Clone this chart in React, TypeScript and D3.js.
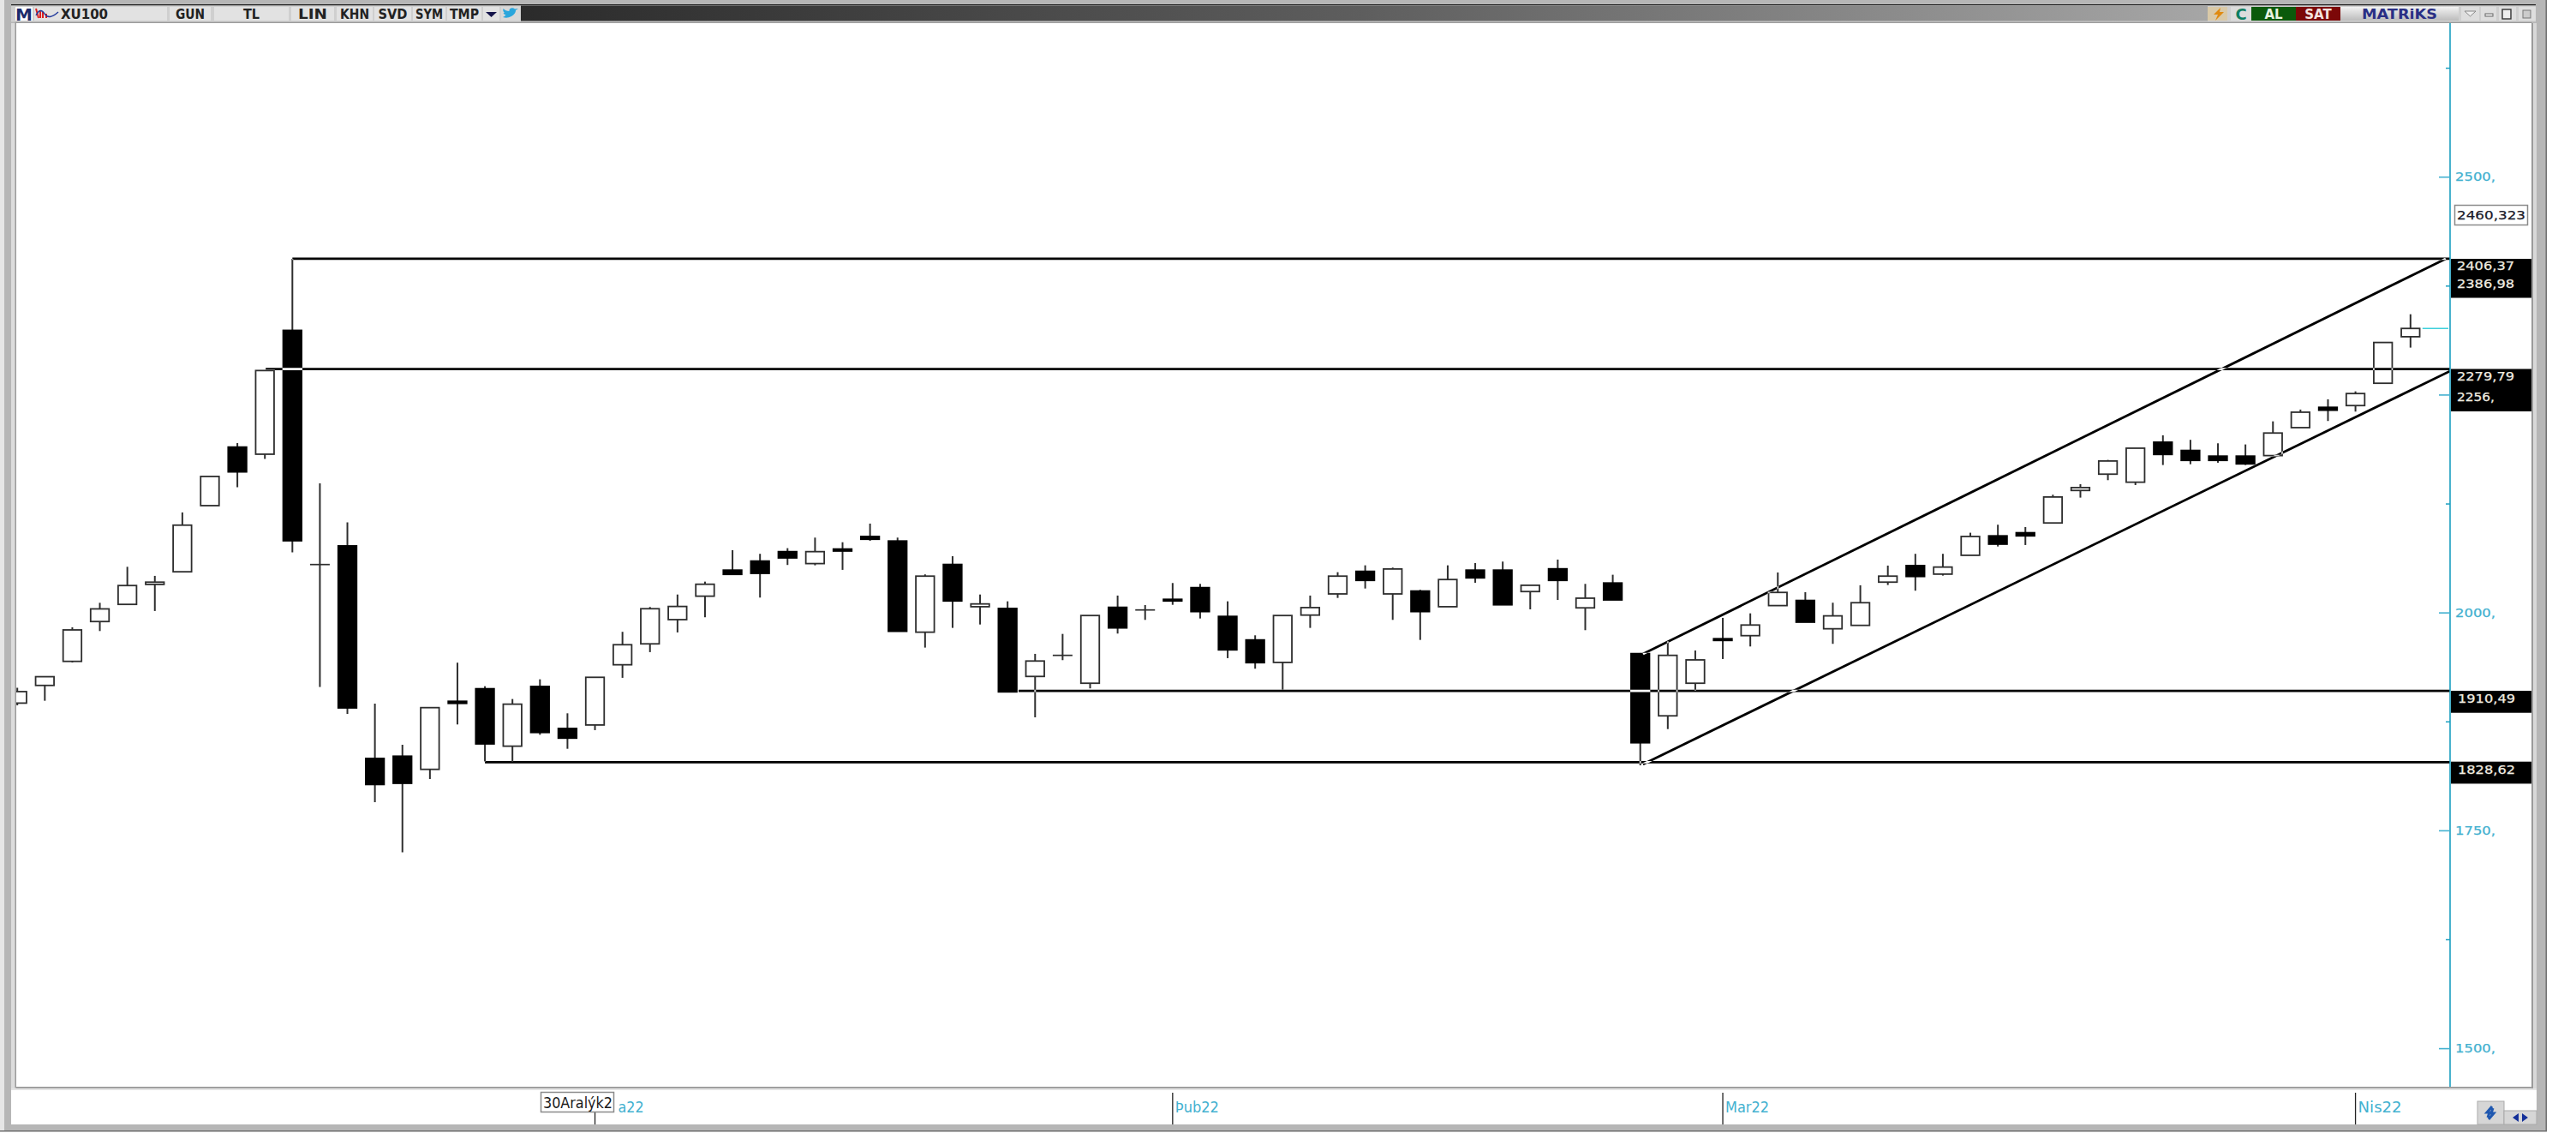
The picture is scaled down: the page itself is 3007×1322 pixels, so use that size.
import React from 'react';
import * as d3 from 'd3';

const opens = [1896.5,1916.8,1944.4,1990.1,2009.8,2032.7,2047.2,2123.1,2190.3,2182.1,2324.2,2055.5,2076.9,1833.0,1835.6,1820.5,1898.6,1913.0,1847.1,1915.6,1867.4,1871.4,1940.5,1964.5,1992.3,2019.2,2049.1,2059.5,2070.3,2056.6,2073.3,2087.7,2082.5,1977.9,2055.6,2007.1,2005.1,1927.1,1951.3,1919.3,2006.4,2003.4,2015.6,2029.0,1996.0,1969.0,1943.2,1997.5,2021.8,2047.7,2021.8,2025.1,2007.1,2049.1,2049.1,2024.5,2050.6,2005.8,2034.3,1953.3,1881.9,1919.3,1970.4,1973.9,2008.4,2014.3,1981.8,1985.7,2035.3,2054.3,2044.5,2066.1,2088.4,2092.0,2103.2,2140.5,2159.2,2150.0,2195.9,2186.4,2179.9,2179.9,2180.5,2212.6,2235.9,2237.9,2263.5,2316.9];
const highs = [1914.1,1926.8,1983.5,2011.6,2052.9,2042.5,2115.3,2156.6,2194.9,2278.1,2406.4,2148.7,2103.9,1895.9,1848.7,1891.3,1942.9,1915.9,1901.2,1923.8,1884.8,1926.1,1978.3,2006.8,2021.1,2035.9,2072.0,2067.8,2074.3,2086.4,2081.1,2102.5,2086.4,2044.2,2065.1,2021.1,2013.3,1953.0,1975.9,1997.0,2019.9,2009.0,2034.3,2033.3,2013.3,1974.3,1997.0,2019.9,2046.7,2054.6,2052.0,2026.5,2054.6,2057.2,2058.9,2031.7,2061.2,2033.3,2043.8,1954.0,1967.4,1956.9,1994.3,1999.5,2046.4,2023.8,2011.7,2031.7,2054.3,2067.8,2067.8,2092.0,2101.2,2098.5,2135.6,2147.7,2175.6,2189.0,2203.8,2198.6,2194.6,2193.3,2219.8,2233.3,2245.1,2254.2,2310.3,2342.7];
const lows = [1894.0,1899.2,1943.2,1979.2,2009.8,2002.2,2047.2,2123.1,2144.2,2176.7,2069.5,1915.0,1884.1,1782.8,1725.3,1809.4,1872.0,1829.6,1829.8,1860.2,1844.1,1865.5,1925.5,1955.0,1977.6,1995.0,2044.2,2017.6,2055.0,2054.6,2049.4,2082.8,1978.9,1960.2,1982.8,1986.7,1909.4,1880.2,1945.8,1913.4,1976.3,1992.0,2009.3,1993.6,1948.1,1936.0,1911.7,1982.8,2017.2,2028.0,1992.0,1969.0,2007.1,2034.6,2009.3,2004.1,2014.9,1980.2,2014.9,1825.1,1866.7,1911.0,1947.1,1961.5,2008.4,1989.4,1964.5,1985.7,2032.0,2025.5,2042.8,2066.1,2076.2,2077.9,2103.2,2132.3,2152.3,2146.7,2169.7,2170.6,2172.3,2169.7,2180.5,2212.6,2220.2,2231.0,2263.5,2304.4];
const closes = [1909.7,1926.8,1980.5,2004.6,2031.4,2035.3,2100.7,2156.6,2161.8,2278.1,2082.8,2055.5,1891.0,1803.1,1804.5,1891.3,1896.2,1849.7,1895.3,1862.8,1856.3,1926.1,1963.5,2004.8,2007.4,2032.9,2044.2,2045.4,2063.1,2070.3,2071.0,2084.5,1978.9,2042.2,2013.7,2010.3,1909.4,1944.8,1951.3,1997.0,1982.8,2003.4,2013.7,2001.5,1957.6,1942.9,1997.0,2006.1,2042.2,2037.3,2050.4,2001.5,2038.3,2040.2,2009.3,2031.7,2037.3,2016.9,2014.9,1851.0,1951.3,1946.1,1968.4,1986.1,2023.5,1989.4,1996.6,2011.7,2042.2,2041.8,2052.6,2087.7,2078.9,2088.4,2133.0,2143.8,2174.3,2189.0,2181.8,2175.0,2175.0,2171.0,2206.4,2230.3,2232.6,2251.7,2310.3,2326.4];

const majorTicks = [2500, 2250, 2000, 1750, 1500];
const majorLabels = ['2500,', '', '2000,', '1750,', '1500,'];
const minorTicks = [2625, 2375, 2125, 1875, 1625];

const levels = [2406.37, 2279.79, 1910.49, 1828.62];
const levelStarts = [10, 9.03, 36.4, 17];
const channelUpperIdx = [59.1, 88.28];
const channelUpperVal = [1953, 2406.37];
const channelLowerIdx = [59.1, 88.44];
const channelLowerVal = [1826.4, 2277.5];

const monthIdx = [21, 42, 62, 85];
const monthLabels = ['a22', 'Þub22', 'Mar22', 'Nis22'];
const crosshairLabel = '30Aralýk2';
const cursorValue = '2460,323';

const toolbarCells = ['GUN', 'TL', 'LIN', 'KHN', 'SVD', 'SYM', 'TMP'];
const toolbarX = [198, 250, 340, 393, 437, 482, 522];
const toolbarW = [48, 87, 50, 42, 43, 38, 40];

const x = d3.scaleLinear().domain([0, 87]).range([20.2, 2813.8]);
const y = d3.scaleLinear().domain([1500, 2500]).range([1223.6, 206.7]);

const FONT = '"DejaVu Sans", sans-serif';
const TEAL = '#1b9fc0';
const LABEL = '#43b1d0';
const INK = '#2e2e2e';
const BODY_W = 21.5;
const LAST_X = 88.44;

function ValueLabel({ text, tx, cy, w, fill }: any) {
  return (
    <text x={tx} y={cy + 4.7} fontFamily={FONT} fontSize={13.5} fill={fill} stroke={fill} strokeWidth={0.25}
      textLength={w} lengthAdjust="spacingAndGlyphs">{text}</text>
  );
}

function Candle({ i }: { i: number }) {
  const cx = x(i);
  const o = opens[i], c = closes[i];
  const top = y(Math.max(o, c));
  const bot = y(Math.min(o, c));
  const black = c < o;
  return (
    <g>
      <line x1={cx} x2={cx} y1={y(highs[i])} y2={y(lows[i])} stroke={INK} strokeWidth={2} />
      {o === c ? (
        <line x1={cx - 11.5} x2={cx + 11.5} y1={top} y2={top} stroke={INK} strokeWidth={1.7} />
      ) : (
        <rect x={cx - BODY_W / 2} width={BODY_W} y={top} height={bot - top}
          fill={black ? '#000' : '#fff'} stroke={black ? '#000' : INK} strokeWidth={1.8} />
      )}
    </g>
  );
}

function Toolbar() {
  return (
    <g>
      <defs>
        <linearGradient id="tbar" x1="0" x2="1" y1="0" y2="0">
          <stop offset="0" stopColor="#2b2b2b" />
          <stop offset="0.5" stopColor="#5e5e5e" />
          <stop offset="1" stopColor="#a6a6a6" />
        </linearGradient>
        <linearGradient id="mat" x1="0" x2="0" y1="0" y2="1">
          <stop offset="0" stopColor="#f2f2f2" />
          <stop offset="1" stopColor="#bcbcbc" />
        </linearGradient>
      </defs>
      <rect x={13} y={5} width={2947} height={1.5} fill="#222" />
      <rect x={13} y={6.5} width={2947} height={19} fill="#cfcfcf" />
      <rect x={608} y={6.5} width={1969} height={18} fill="url(#tbar)" />
      <rect x={18} y={8} width={20} height={16} fill="#fff" />
      <text x={28} y={23.5} textAnchor="middle" fontFamily={FONT} fontWeight={700} fontSize={20} fill="#1c2a6b">M</text>
      <rect x={40} y={8} width={155} height={16} fill="#e2e2e2" />
      <path d="M42 10 L45 21 M47 12 L47 21 M50 14 L50 21 M54 16 L54 21" stroke="#d22" strokeWidth={2} />
      <path d="M42 18 Q47 8 52 16 T68 14" fill="none" stroke="#223a9c" strokeWidth={1.4} />
      <text x={71} y={21.5} fontFamily={FONT} fontWeight={700} fontSize={15} fill="#222" textLength={55} lengthAdjust="spacingAndGlyphs">XU100</text>
      {toolbarCells.map((t, k) => (
        <g key={t}>
          <rect x={toolbarX[k]} y={8} width={toolbarW[k]} height={16} fill="#e2e2e2" />
          <text x={toolbarX[k] + toolbarW[k] / 2} y={21.5} textAnchor="middle" fontFamily={FONT} fontWeight={700} fontSize={15} fill="#222"
            textLength={t === 'TL' ? 19 : Math.min(toolbarW[k] - 6, 34)} lengthAdjust="spacingAndGlyphs">{t}</text>
        </g>
      ))}
      <rect x={564} y={8} width={19} height={16} fill="#e2e2e2" />
      <path d="M567 14 L580 14 L573.5 20 Z" fill="#14144a" />
      <rect x={585} y={8} width={22} height={16} fill="#d8d8d8" />
      <path d="M587 20 Q592 22 597 19 Q602 16 602 12 L605 10 L601 10.5 Q598 8 595 10.5 Q594 12 594.5 13 Q590 13 587.5 10 Q586.5 13 589 15 L587.5 15 Q588.5 17 590.5 17.5 Q589 19 587 20 Z" fill="#2aa6dc" />

      <rect x={2577} y={8} width={23} height={16} fill="#d9c9a8" />
      <path d="M2592 9 L2584 17 L2589 17 L2586 24 L2596 14 L2591 14 Z" fill="#e08a10" />
      <rect x={2604} y={8} width={24} height={16} fill="#dcdcdc" />
      <text x={2616} y={22.5} textAnchor="middle" fontFamily={FONT} fontWeight={700} fontSize={18} fill="#0f7f62">C</text>
      <rect x={2628} y={8} width={52} height={16} fill="#0b5a0b" />
      <text x={2654} y={22} textAnchor="middle" fontFamily={FONT} fontWeight={700} fontSize={15} fill="#e8f4e0">AL</text>
      <rect x={2680} y={8} width={52} height={16} fill="#7c0808" />
      <text x={2706} y={22} textAnchor="middle" fontFamily={FONT} fontWeight={700} fontSize={15} fill="#f4e4e0">SAT</text>
      <rect x={2732} y={8} width={138} height={16} fill="url(#mat)" />
      <text x={2801} y={22} textAnchor="middle" fontFamily={FONT} fontWeight={700} fontSize={15} fill="#2a2f85" textLength={88} lengthAdjust="spacingAndGlyphs">MATRiKS</text>
      <rect x={2873} y={8} width={21} height={16} fill="#dedede" />
      <path d="M2877 13 L2890 13 L2883.5 19 Z" fill="#eee" stroke="#888" strokeWidth={1} />
      <rect x={2896} y={8} width={18} height={16} fill="#dedede" />
      <rect x={2901} y={16} width={9} height={3} fill="#eee" stroke="#666" strokeWidth={1} />
      <rect x={2917} y={8} width={20} height={16} fill="#dedede" />
      <rect x={2921} y={11} width={10} height={11} fill="#eee" stroke="#333" strokeWidth={1.4} />
      <rect x={2940} y={8} width={20} height={16} fill="#dedede" />
      <rect x={2945} y={12} width={9} height={9} fill="#ccc" stroke="#777" strokeWidth={1} />
    </g>
  );
}

function Frame() {
  return (
    <g>
      <rect x={0} y={0} width={2973} height={1320} fill="#b6b6b6" />
      <rect x={0} y={0} width={5} height={1320} fill="#e6e6e6" />
      <rect x={13} y={27} width={6} height={1245} fill="#dcdcdc" />
      <rect x={2955} y={27} width={6} height={1245} fill="#d8d8d8" />
      <rect x={2955} y={27} width={2} height={1245} fill="#9a9a9a" />
      <rect x={2971.5} y={0} width={1.5} height={1320} fill="#6e6e6e" />
      <rect x={17.5} y={25.5} width={2938} height={1244} fill="#9a9a9a" />
      <rect x={19} y={27} width={2936} height={1241} fill="#fff" />
      <rect x={13} y={1272} width={2948} height={40} fill="#fff" />
      <rect x={13} y={1270} width={2948} height={2} fill="#e4e4e4" />
      <rect x={0} y={1319} width={2973} height={1.5} fill="#6e6e6e" />
    </g>
  );
}

function PriceAxis() {
  const ax = 2860;
  return (
    <g>
      <line x1={ax} x2={ax} y1={27} y2={1268} stroke={TEAL} strokeWidth={1.6} />
      {minorTicks.map((v) => (
        <line key={v} x1={ax - 5} x2={ax} y1={y(v)} y2={y(v)} stroke={TEAL} strokeWidth={1.5} />
      ))}
      {majorTicks.map((v, k) => (
        <g key={v}>
          <line x1={ax - 13} x2={ax} y1={y(v)} y2={y(v)} stroke={LABEL} strokeWidth={1.6} />
          {majorLabels[k] && <ValueLabel text={majorLabels[k]} tx={ax + 6} cy={y(v)} w={47} fill={LABEL} />}
        </g>
      ))}
      <rect x={2865.5} y={239.5} width={85} height={23} fill="#fff" stroke="#8a8a8a" strokeWidth={1.5} />
      <ValueLabel text={cursorValue} tx={2868} cy={251} w={80} fill="#1a1a2a" />
      <rect x={2861} y={302} width={94} height={45.5} fill="#000" />
      <ValueLabel text="2406,37" tx={2868} cy={310.7} w={67} fill="#f0ece0" />
      <ValueLabel text="2386,98" tx={2868} cy={331.3} w={67} fill="#f0ece0" />
      <rect x={2861} y={430.5} width={94} height={49.5} fill="#000" />
      <ValueLabel text="2279,79" tx={2868} cy={439} w={67} fill="#f0ece0" />
      <ValueLabel text="2256," tx={2868} cy={463} w={44} fill="#f0ece0" />
      <rect x={2861} y={806} width={94} height={25.7} fill="#000" />
      <ValueLabel text="1910,49" tx={2869} cy={815} w={67} fill="#f0ece0" />
      <rect x={2861} y={888.7} width={94} height={25.7} fill="#000" />
      <ValueLabel text="1828,62" tx={2869} cy={898} w={67} fill="#f0ece0" />
    </g>
  );
}

function TimeAxis() {
  return (
    <g>
      {monthIdx.map((m, k) => (
        <g key={m}>
          <line x1={x(m)} x2={x(m)} y1={k === 0 ? 1298 : 1275} y2={1312} stroke="#222" strokeWidth={1.3} />
          <text x={k === 0 ? x(m) + 27 : x(m) + 3} y={1298} fontFamily={FONT} fontSize={17} fill={LABEL}
            textLength={k === 0 ? 30 : 51} lengthAdjust="spacingAndGlyphs">{monthLabels[k]}</text>
        </g>
      ))}
      <rect x={631.5} y={1274.5} width={85} height={23} fill="#fff" stroke="#8a8a8a" strokeWidth={1.5} />
      <text x={634} y={1292.5} fontFamily={FONT} fontSize={17} fill="#1a1a1a" textLength={81} lengthAdjust="spacingAndGlyphs">{crosshairLabel}</text>
      <rect x={2892} y={1285} width={31} height={27} fill="#d6d6d6" stroke="#aaa" />
      <path d="M2909 1291 L2903 1298 L2906 1298 L2904 1304 M2905 1306 L2911 1299 L2908 1299 L2910 1293" fill="none" stroke="#1f58b0" strokeWidth={3} />
      <rect x={2923} y={1296} width={38} height={16} fill="#d6d6d6" stroke="#aaa" />
      <path d="M2940 1299 L2933 1304 L2940 1309 Z M2944 1299 L2951 1304 L2944 1309 Z" fill="#14309a" />
    </g>
  );
}

export default function App() {
  const lineProps = { stroke: '#fff', strokeWidth: 2.8, style: { mixBlendMode: 'difference' as const }, fill: 'none' };
  const upper = d3.line<number>().x((d) => x(d)).y((_, k) => y(channelUpperVal[k]))(channelUpperIdx) as string;
  const lower = d3.line<number>().x((d) => x(d)).y((_, k) => y(channelLowerVal[k]))(channelLowerIdx) as string;
  return (
    <svg width={3007} height={1322} viewBox="0 0 3007 1322"
      style={{ position: 'absolute', left: 0, top: 0, display: 'block', background: '#fff' }}>
      <rect x={0} y={0} width={3007} height={1322} fill="#fff" />
      <Frame />
      <Toolbar />
      <clipPath id="plot"><rect x={19} y={27} width={2841} height={1241} /></clipPath>
      <g clipPath="url(#plot)">
        <rect x={19} y={27} width={2841} height={1241} fill="#fff" />
        {opens.map((_, i) => <Candle key={i} i={i} />)}
        <line x1={x(87) + 14} x2={2858} y1={y(closes[87])} y2={y(closes[87])} stroke="#3fd0dc" strokeWidth={1.5} />
        {levels.map((v, k) => (
          <line key={v} x1={x(levelStarts[k])} x2={x(LAST_X)} y1={y(v)} y2={y(v)} {...lineProps} />
        ))}
        <path d={upper} {...lineProps} />
        <path d={lower} {...lineProps} />
      </g>
      <PriceAxis />
      <TimeAxis />
    </svg>
  );
}
